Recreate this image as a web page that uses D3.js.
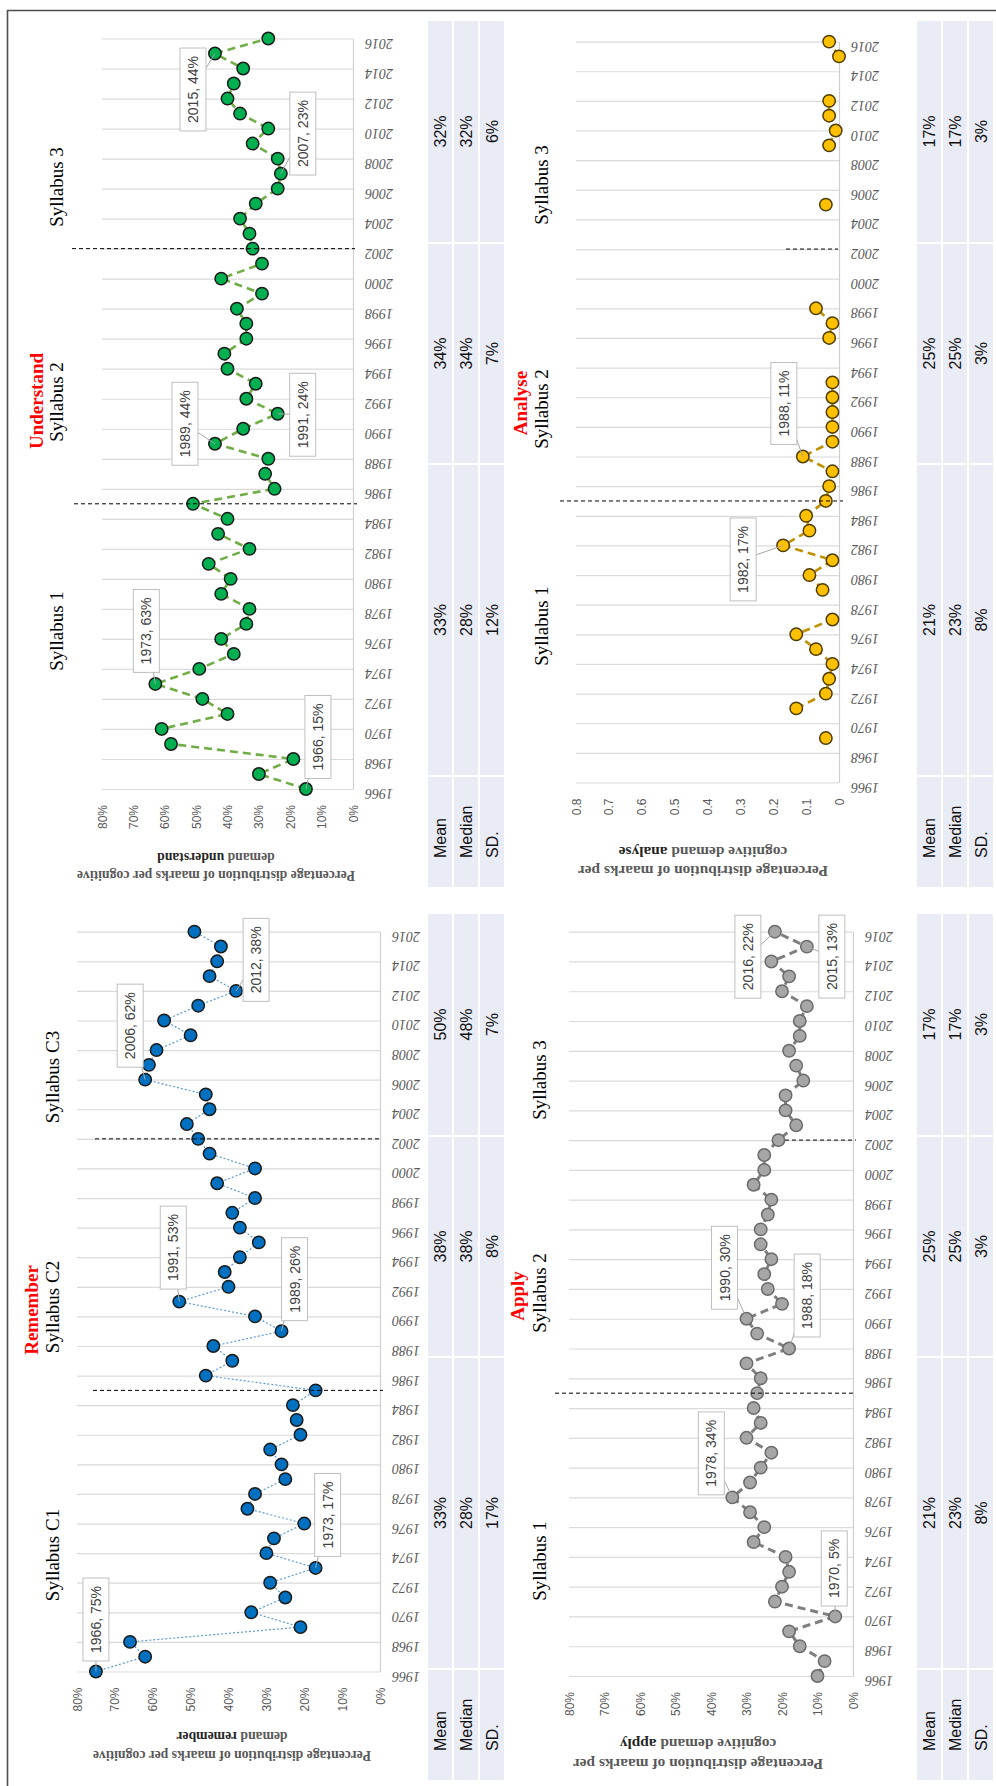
<!DOCTYPE html>
<html>
<head>
<meta charset="utf-8">
<script src="https://cdn.jsdelivr.net/npm/d3@7"></script>
<style>
  body { margin: 0; background: #fff; }
  svg { display: block; }
</style>
</head>
<body>
<svg id="chart" width="996" height="1786"></svg>
<script>
// ---------- data ----------
const years = [1966, 1967, 1968, 1969, 1970, 1971, 1972, 1973, 1974, 1975,
               1976, 1977, 1978, 1979, 1980, 1981, 1982, 1983, 1984, 1985,
               1986, 1987, 1988, 1989, 1990, 1991, 1992, 1993, 1994, 1995,
               1996, 1997, 1998, 1999, 2000, 2001, 2002, 2003, 2004, 2005,
               2006, 2007, 2008, 2009, 2010, 2011, 2012, 2013, 2014, 2015, 2016];
const yearTicks = [1966, 1968, 1970, 1972, 1974, 1976, 1978, 1980, 1982, 1984,
                   1986, 1988, 1990, 1992, 1994, 1996, 1998, 2000, 2002, 2004,
                   2006, 2008, 2010, 2012, 2014, 2016];

// percentage of marks per cognitive demand, one value per exam year
const rememberValues = [75, 62, 66, 21, 34, 25, 29, 17, 30, 28,
                        20, 35, 33, 25, 26, 29, 21, 22, 23, 17,
                        46, 39, 44, 26, 33, 53, 40, 41, 37, 32,
                        37, 39, 33, 43, 33, 45, 48, 51, 45, 46,
                        62, 61, 59, 50, 57, 48, 38, 45, 43, 42, 49];
const understandValues = [15, 30, 19, 58, 61, 40, 48, 63, 49, 38,
                          42, 34, 33, 42, 39, 46, 33, 43, 40, 51,
                          25, 28, 27, 44, 35, 24, 34, 31, 40, 41,
                          34, 34, 37, 29, 42, 29, 32, 33, 36, 31,
                          24, 23, 24, 32, 27, 36, 40, 38, 35, 44, 27];
const applyValues = [10, 8, 15, 18, 5, 22, 20, 18, 19, 28,
                     25, 29, 34, 29, 26, 23, 30, 26, 28, 27,
                     26, 30, 18, 27, 30, 20, 24, 25, 23, 26,
                     26, 24, 23, 28, 25, 25, 21, 16, 19, 19,
                     14, 16, 18, 15, 15, 13, 20, 18, 23, 13, 22];
// analyse is given as a fraction; null = no mark in that year
const analyseValues = [null, null, null, 0.04, null, 0.13, 0.04, 0.03, 0.02, 0.07,
                       0.13, 0.02, null, 0.05, 0.09, 0.02, 0.17, 0.09, 0.10, 0.04,
                       0.03, 0.02, 0.11, 0.02, 0.02, 0.02, 0.02, 0.02, null, null,
                       0.03, 0.02, 0.07, null, null, null, null, null, null, 0.04,
                       null, null, null, 0.03, 0.01, 0.03, 0.03, null, null, 0.00, 0.03];

const percentTicks = [0, 10, 20, 30, 40, 50, 60, 70, 80];
const fractionTicks = [0, 0.1, 0.2, 0.3, 0.4, 0.5, 0.6, 0.7, 0.8];
const fractionTickLabels = ["0", "0.1", "0.2", "0.3", "0.4", "0.5", "0.6", "0.7", "0.8"];

const syllabusBreaks = [1985, 2002];
const syllabusNames = ["Syllabus 1", "Syllabus 2", "Syllabus 3"];
const rememberSyllabusNames = ["Syllabus C1", "Syllabus C2", "Syllabus C3"];

const statLabels = ["Mean", "Median", "SD."];
// rows: latest syllabus first, then middle, then first; columns: mean, median, SD
const rememberStats = [["50%", "48%", "7%"], ["38%", "38%", "8%"], ["33%", "28%", "17%"]];
const understandStats = [["32%", "32%", "6%"], ["34%", "34%", "7%"], ["33%", "28%", "12%"]];
const applyStats = [["17%", "17%", "3%"], ["25%", "25%", "3%"], ["21%", "23%", "8%"]];
const analyseStats = [["17%", "17%", "3%"], ["25%", "25%", "3%"], ["21%", "23%", "8%"]];

// years that carry a value callout
const rememberCallouts = [1966, 1973, 1989, 1991, 2006, 2012];
const understandCallouts = [1966, 1973, 1989, 1991, 2007, 2015];
const applyCallouts = [1970, 1978, 1988, 1990, 2016, 2015];
const analyseCallouts = [1982, 1988];

// ---------- drawing ----------
const SANS = "'Liberation Sans', Arial, sans-serif";
const SERIF = "'Liberation Serif', 'Times New Roman', serif";
const svg = d3.select("#chart");

// page frame
svg.append("path")
  .attr("d", "M7.5,1786V10.5H996")
  .attr("fill", "none")
  .attr("stroke", "#4d4d4d")
  .attr("stroke-width", 1.6);

const panels = [
  {
    name: "Understand", word: "understand", values: understandValues, stats: understandStats,
    names: syllabusNames, callouts: understandCallouts,
    max: 80, ticks: percentTicks, tickFmt: d => d + "%", pct: v => v,
    xZero: 353, xMax: 102, yFirst: 789, yLast: 38.5,
    titleX: 43, titleY: 401, sylX: 63, sylY: [631, 402, 187],
    axisTitle: ["Percentage distribution of maarks per cognitive", "demand "], axisTitleSize: 13.7,
    axisTitleX: 216, axisTitleY: 866, axisLineGap: 18,
    sep: [[74, 357], [72, 355]],
    calloutOffsets: [[12, -52], [-9, -53], [-30, -20], [25, 1], [22, -40], [-22, 36]],
    tableX: 428, tableTop: 0,
    line: { color: "#70AD47", width: 2.6, dash: "8,5" },
    dot: { fill: "#00B050", stroke: "#1a1a1a" }
  },
  {
    name: "Analyse", word: "analyse", values: analyseValues, stats: analyseStats,
    names: syllabusNames, callouts: analyseCallouts,
    max: 0.8, ticks: fractionTicks, tickFmt: (d, i) => fractionTickLabels[i], pct: v => Math.round(v * 100),
    xZero: 839, xMax: 576, yFirst: 782.5, yLast: 41.6,
    titleX: 527, titleY: 403, sylX: 548, sylY: [626, 409, 185],
    axisTitle: ["Percentage distribution of maarks per", "cognitive demand "], axisTitleSize: 15.4,
    axisTitleX: 703, axisTitleY: 861.5, axisLineGap: 19,
    sep: [[560, 843], [786, 838]],
    calloutOffsets: [[-40, 14], [-19, -53]],
    tableX: 917, tableTop: 0,
    line: { color: "#BF9000", width: 2.6, dash: "8,5" },
    dot: { fill: "#FFC000", stroke: "#4d3d00" }
  },
  {
    name: "Remember", word: "remember", values: rememberValues, stats: rememberStats,
    names: rememberSyllabusNames, callouts: rememberCallouts,
    max: 80, ticks: percentTicks, tickFmt: d => d + "%", pct: v => v,
    xZero: 380, xMax: 77, yFirst: 1671.5, yLast: 931.7,
    titleX: 38, titleY: 1310, sylX: 59, sylY: [1555, 1307, 1077],
    axisTitle: ["Percentage distribution of maarks per cognitive", "demand "], axisTitleSize: 13.7,
    axisTitleX: 232, axisTitleY: 1746, axisLineGap: 19,
    sep: [[93, 383], [95, 380]],
    calloutOffsets: [[0, -52], [12, -53], [13, -52], [-6, -54], [-15, -54], [20, -31]],
    tableX: 428, tableTop: 893,
    line: { color: "#5B9BD5", width: 1.2, dash: "2,2" },
    dot: { fill: "#0070C0", stroke: "#1a1a1a" }
  },
  {
    name: "Apply", word: "apply", values: applyValues, stats: applyStats,
    names: syllabusNames, callouts: applyCallouts,
    max: 80, ticks: percentTicks, tickFmt: d => d + "%", pct: v => v,
    xZero: 853, xMax: 569, yFirst: 1676, yLast: 931.7,
    titleX: 524, titleY: 1296, sylX: 546, sylY: [1561, 1293, 1080],
    axisTitle: ["Percentage distribution of maarks per", "cognitive demand "], axisTitleSize: 15.4,
    axisTitleX: 698, axisTitleY: 1754, axisLineGap: 20,
    sep: [[555, 856], [785, 856]],
    calloutOffsets: [[-1, -48], [-21, -44], [18, -53], [-22, -51], [-27, 25], [25, 10]],
    tableX: 917, tableTop: 893,
    line: { color: "#7F7F7F", width: 3, dash: "8,5" },
    dot: { fill: "#A6A6A6", stroke: "#6b6b6b" }
  }
];

// table rows relative to the quadrant top: three syllabus rows and the label row
const tableRows = [[21, 242], [244, 463], [465, 775], [777, 887]];

panels.forEach(p => {
  const g = svg.append("g").attr("class", "panel-" + p.word);

  const x = d3.scaleLinear().domain([0, p.max]).range([p.xZero, p.xMax]);
  const y = d3.scaleLinear().domain([years[0], years[years.length - 1]]).range([p.yFirst, p.yLast]);

  // year axis with horizontal gridlines; its domain is the zero line
  const yearAxis = d3.axisRight(y)
    .tickValues(yearTicks)
    .tickFormat(d3.format("d"))
    .tickSize(-(p.xZero - p.xMax))
    .tickSizeOuter(0);
  const gy = g.append("g").attr("transform", `translate(${p.xZero},0)`).call(yearAxis);
  gy.select(".domain").attr("stroke", "#cfcfcf").attr("stroke-width", 1.2);
  gy.selectAll(".tick line").attr("stroke", "#dadada").attr("stroke-width", 1.2);
  gy.selectAll(".tick text")
    .attr("x", null).attr("dy", null)
    .attr("transform", "translate(26,4) rotate(180)")
    .attr("text-anchor", "middle")
    .attr("dominant-baseline", "central")
    .attr("font-family", SERIF)
    .attr("font-style", "italic")
    .attr("font-size", 14)
    .attr("fill", "#595959");

  // value axis labels
  const valueAxis = d3.axisBottom(x).tickValues(p.ticks).tickFormat(p.tickFmt).tickSize(0);
  const gx = g.append("g").attr("transform", `translate(0,${p.yFirst + 16})`).call(valueAxis);
  gx.select(".domain").remove();
  gx.selectAll(".tick text")
    .attr("y", 0).attr("dy", null)
    .attr("transform", "rotate(-90)")
    .attr("text-anchor", "end")
    .attr("dominant-baseline", "central")
    .attr("font-family", SANS)
    .attr("font-size", 12)
    .attr("fill", "#595959");

  // axis title, printed upside down in two lines
  const at = g.append("text")
    .attr("transform", `translate(${p.axisTitleX},${p.axisTitleY}) rotate(180)`)
    .attr("text-anchor", "middle")
    .attr("font-family", SERIF)
    .attr("font-weight", "bold")
    .attr("font-size", p.axisTitleSize)
    .attr("fill", "#595959");
  at.append("tspan").attr("x", 0).attr("y", -p.axisLineGap / 2).attr("dominant-baseline", "central").text(p.axisTitle[0]);
  const l2 = at.append("tspan").attr("x", 0).attr("y", p.axisLineGap / 2).attr("dominant-baseline", "central");
  l2.append("tspan").text(p.axisTitle[1]);
  l2.append("tspan").attr("fill", "#262626").attr("font-weight", 900).text(p.word);

  // series
  const pts = years.map((yr, i) => ({ year: yr, v: p.values[i] }));
  const line = d3.line()
    .defined(d => d.v != null)
    .x(d => x(d.v))
    .y(d => y(d.year));
  g.append("path")
    .datum(pts)
    .attr("d", line)
    .attr("fill", "none")
    .attr("stroke", p.line.color)
    .attr("stroke-width", p.line.width)
    .attr("stroke-dasharray", p.line.dash);

  g.append("g").selectAll("circle")
    .data(pts.filter(d => d.v != null))
    .join("circle")
    .attr("cx", d => x(d.v))
    .attr("cy", d => y(d.year))
    .attr("r", 6.2)
    .attr("fill", p.dot.fill)
    .attr("stroke", p.dot.stroke)
    .attr("stroke-width", 1.5);

  // syllabus boundaries
  syllabusBreaks.forEach((yr, i) => {
    g.append("line")
      .attr("x1", p.sep[i][0]).attr("x2", p.sep[i][1])
      .attr("y1", y(yr)).attr("y2", y(yr))
      .attr("stroke", "#000")
      .attr("stroke-width", 1)
      .attr("stroke-dasharray", "4,3");
  });

  // value callouts
  p.callouts.forEach((yr, i) => {
    const v = p.values[years.indexOf(yr)];
    const px = x(v), py = y(yr);
    const cx = px + p.calloutOffsets[i][0], cy = py + p.calloutOffsets[i][1];
    const cg = g.append("g");
    cg.append("line")
      .attr("x1", px).attr("y1", py).attr("x2", cx).attr("y2", cy)
      .attr("stroke", "#a6a6a6").attr("stroke-width", 1);
    const box = cg.append("rect");
    const t = cg.append("text")
      .attr("transform", `translate(${cx},${cy}) rotate(-90)`)
      .attr("text-anchor", "middle")
      .attr("dominant-baseline", "central")
      .attr("font-family", SANS)
      .attr("font-size", 14)
      .attr("fill", "#404040")
      .text(`${yr}, ${p.pct(v)}%`);
    const len = t.node().getComputedTextLength();
    box.attr("x", cx - 13).attr("y", cy - len / 2 - 8)
      .attr("width", 26).attr("height", len + 16)
      .attr("fill", "#fff").attr("stroke", "#bfbfbf").attr("stroke-width", 1);
  });

  // headings
  g.append("text")
    .attr("transform", `translate(${p.titleX},${p.titleY}) rotate(-90)`)
    .attr("text-anchor", "middle")
    .attr("font-family", SERIF)
    .attr("font-weight", "bold")
    .attr("font-size", 19)
    .attr("fill", "#ff0000")
    .text(p.name);
  p.names.forEach((nm, i) => {
    g.append("text")
      .attr("transform", `translate(${p.sylX},${p.sylY[i]}) rotate(-90)`)
      .attr("text-anchor", "middle")
      .attr("font-family", SERIF)
      .attr("font-size", 19)
      .attr("fill", "#000")
      .text(nm);
  });

  // statistics table
  const tg = g.append("g");
  tableRows.forEach((r, ri) => {
    statLabels.forEach((lab, ci) => {
      const x0 = p.tableX + ci * 26;
      const top = p.tableTop + r[0], bottom = p.tableTop + r[1];
      tg.append("rect")
        .attr("x", x0).attr("y", top)
        .attr("width", 24).attr("height", bottom - top)
        .attr("fill", "#e9ebf5");
      const txt = tg.append("text")
        .attr("font-family", SANS)
        .attr("font-size", 16)
        .attr("fill", "#111")
        .attr("dominant-baseline", "central");
      if (ri < 3) {
        txt.attr("transform", `translate(${x0 + 12},${(top + bottom) / 2}) rotate(-90)`)
          .attr("text-anchor", "middle")
          .text(p.stats[ri][ci]);
      } else {
        txt.attr("transform", `translate(${x0 + 12},${bottom - 29}) rotate(-90)`)
          .attr("text-anchor", "start")
          .text(lab);
      }
    });
  });
});
</script>
</body>
</html>
